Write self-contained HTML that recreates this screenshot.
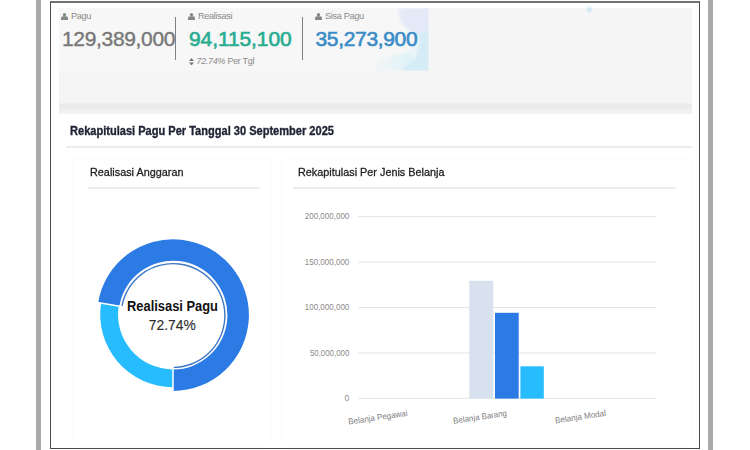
<!DOCTYPE html>
<html>
<head>
<meta charset="utf-8">
<title>Rekapitulasi Pagu</title>
<style>
  html, body { margin: 0; padding: 0; }
  body {
    width: 750px; height: 450px; overflow: hidden; position: relative;
    background: #ffffff;
    font-family: "Liberation Sans", sans-serif;
    color: #777;
  }
  .abs { position: absolute; }
  .vbar { position: absolute; top: 0; height: 450px; background: #a9a9a9; }
  #frame {
    position: absolute; left: 50px; top: 1px; width: 648.3px; height: 444.7px;
    border: 1px solid #4a4a4a; border-top: 2px solid #727272;
    box-sizing: content-box;
  }
  /* top grey panel */
  #panel  { left: 58.5px; top: 8px; width: 633.5px; height: 63.3px; background: linear-gradient(90deg, #f7f7f7 0, #f7f7f7 371px, #f5f5f5 371px); }
  #panel2 { left: 58.5px; top: 71px; width: 633.5px; height: 32px; background: #f5f5f5; }
  #panel3 { left: 58.5px; top: 101.5px; width: 633.5px; height: 12.2px;
            background: linear-gradient(#f5f5f5 0%, #e9e9e9 28%, #ececec 50%, #f1f1f1 80%, #f3f3f3 100%); }
  .sep { position: absolute; top: 17px; width: 1.3px; height: 43px; background: #808080; }
  .lbl { position: absolute; top: 11px; font-size: 9.2px; letter-spacing:-0.35px; line-height: 10px; color: #8a8a8a; white-space: nowrap; transform-origin: 0 50%; }
  .num { position: absolute; top: 26.5px; font-size: 21px; line-height: 24px; white-space: nowrap; transform-origin: 0 50%; }
  .ico { position: absolute; }
  .title { left: 70px; top: 123.8px; font-size: 12px; line-height: 14px; transform: scaleX(0.921); -webkit-text-stroke: 0.35px #1f2233; font-weight: bold; color: #1f2233; white-space: nowrap; transform-origin: 0 50%; }
  .hr { position: absolute; height: 1.6px; background: #ededed; }
  .ctitle { position: absolute; font-size: 11.4px; line-height: 12px; color: #222; transform: scaleX(0.952); -webkit-text-stroke: 0.3px #222; white-space: nowrap; transform-origin: 0 50%; }
  .card { position: absolute; background: #fff; box-shadow: 0 0 6px rgba(0,0,0,0.035); }
</style>
</head>
<body>
  <div class="vbar" style="left:36.2px;width:5.3px"></div>
  <div class="vbar" style="left:708.3px;width:5.2px"></div>

  <div id="panel" class="abs"></div>
  <div id="panel2" class="abs"></div>
  <div id="panel3" class="abs"></div>

  <!-- pastel image behind 3rd stat -->
  <svg class="abs" style="left:370px;top:8px" width="59" height="63" viewBox="0 0 59 63">
    <defs>
      <filter id="soft" x="-10%" y="-10%" width="120%" height="120%"><feGaussianBlur stdDeviation="1.2"/></filter>
      <linearGradient id="fadeL" x1="0" x2="1" y1="0" y2="0">
        <stop offset="0" stop-color="#f6f6f6" stop-opacity="1"/>
        <stop offset="0.6" stop-color="#f6f6f6" stop-opacity="0"/>
      </linearGradient>
    </defs>
    <g filter="url(#soft)"><polygon points="28,0 59,0 59,63 0,63 14,50 38,44 44,30 30,14" fill="#e9f4f9"/>
    <polygon points="28,0 59,0 59,22 46,26 30,14" fill="#e4e9f8"/>
    <polygon points="59,22 59,63 30,63 46,50 50,32 46,26" fill="#d6ecf6"/>
    <polygon points="0,63 14,50 38,44 46,50 30,63" fill="#e2f3f8"/></g>
    <rect x="0" y="0" width="59" height="63" fill="url(#fadeL)"/>
  </svg>
  <div class="abs" style="left:586.5px;top:6.5px;width:5.5px;height:5.5px;background:#bfe3f1;border-radius:2px;filter:blur(1px);opacity:0.85"></div>

  <!-- stat 1 -->
  <svg class="ico" style="left:61.3px;top:12.7px" width="7" height="7.2" viewBox="0 0 14 14.4"><circle cx="7" cy="3.6" r="3.4" fill="#888"/><path d="M0 14.4 V10.2 Q0 6.6 3.6 6.6 H10.4 Q14 6.6 14 10.2 V14.4 Z" fill="#888"/></svg>
  <div class="lbl" style="left:71px">Pagu</div>
  <div class="num" style="left:62px;color:#787878;letter-spacing:-0.33px;-webkit-text-stroke:0.4px #787878">129,389,000</div>

  <div class="sep" style="left:175px"></div>
  <!-- stat 2 -->
  <svg class="ico" style="left:188.3px;top:12.7px" width="7" height="7.2" viewBox="0 0 14 14.4"><circle cx="7" cy="3.6" r="3.4" fill="#888"/><path d="M0 14.4 V10.2 Q0 6.6 3.6 6.6 H10.4 Q14 6.6 14 10.2 V14.4 Z" fill="#888"/></svg>
  <div class="lbl" style="left:198px">Realisasi</div>
  <div class="num" style="left:189px;color:#29ad92;letter-spacing:-0.1px;-webkit-text-stroke:0.65px #29ad92">94,115,100</div>
  <svg class="ico" style="left:189px;top:57.5px" width="5" height="7.5" viewBox="0 0 10 15"><path d="M5 0 L10 6 H0 Z M0 9 H10 L5 15 Z" fill="#777"/></svg>
  <div class="abs" style="left:196.5px;top:56.4px;font-size:9px;line-height:10px;color:#8a8a8a;white-space:nowrap;letter-spacing:-0.3px" id="pertgl"><i>72.74%</i> Per Tgl</div>

  <div class="sep" style="left:302px"></div>
  <!-- stat 3 -->
  <svg class="ico" style="left:315.3px;top:12.7px" width="7" height="7.2" viewBox="0 0 14 14.4"><circle cx="7" cy="3.6" r="3.4" fill="#888"/><path d="M0 14.4 V10.2 Q0 6.6 3.6 6.6 H10.4 Q14 6.6 14 10.2 V14.4 Z" fill="#888"/></svg>
  <div class="lbl" style="left:325px">Sisa Pagu</div>
  <div class="num" style="left:315.5px;color:#3b8cc7;letter-spacing:-0.33px;-webkit-text-stroke:0.65px #3b8cc7">35,273,900</div>

  <!-- main section -->
  <div class="abs title" id="mtitle">Rekapitulasi Pagu Per Tanggal 30 September 2025</div>
  <div class="hr" style="left:66px;top:146.4px;width:626px"></div>

  <div class="card" style="left:74px;top:160px;width:196px;height:286px"></div>
  <div class="card" style="left:283px;top:160px;width:407px;height:286px"></div>

  <div class="ctitle" id="ct1" style="left:90px;top:165.6px">Realisasi Anggaran</div>
  <div class="hr" style="left:88px;top:187.4px;width:172px"></div>
  <div class="ctitle" id="ct2" style="left:298px;top:165.6px">Rekapitulasi Per Jenis Belanja</div>
  <div class="hr" style="left:293px;top:187.4px;width:383px"></div>

  <!-- donut -->
  <svg class="abs" style="left:74px;top:200px" width="200" height="246" viewBox="74 200 200 246" id="donut">
    <path d="M173.00 387.20 A72.8 72.8 0 0 1 101.20 302.38 L118.75 305.32 A55 55 0 0 0 173.00 369.40 Z" fill="#27bcfd"/>
    <path d="M98.14 302.57 A75.9 75.9 0 1 1 173.00 391.00 L173.00 369.50 A54.4 54.4 0 1 0 119.35 306.12 Z" fill="#2c7be5"/>
    <path d="M121.22 306.28 A52.6 52.6 0 1 1 173.00 368.10 L173.00 366.70 A51.2 51.2 0 1 0 122.59 306.52 Z" fill="#3f78c4"/>
    <line x1="173.00" y1="363.10" x2="173.00" y2="393.10" stroke="#fff" stroke-width="1.5"/>
    <line x1="125.66" y1="307.18" x2="96.07" y2="302.23" stroke="#fff" stroke-width="1.5"/>
    <text x="172.5" y="310.5" text-anchor="middle" font-family="Liberation Sans, sans-serif" font-weight="bold" font-size="13.8" textLength="91" lengthAdjust="spacingAndGlyphs" fill="#111" id="dl1">Realisasi Pagu</text>
    <text x="172.3" y="330.2" text-anchor="middle" font-family="Liberation Sans, sans-serif" font-size="15" textLength="47" lengthAdjust="spacingAndGlyphs" fill="#2e2e2e" stroke="#2e2e2e" stroke-width="0.15" id="dl2">72.74%</text>
  </svg>

  <!-- bar chart -->
  <svg class="abs" style="left:283px;top:195px" width="410" height="251" viewBox="283 195 410 251" id="bars">
    <rect x="358" y="216.2" width="298" height="1" fill="#e4e4e4"/>
    <text x="349.3" y="219.3" text-anchor="end" font-family="Liberation Sans, sans-serif" font-size="8.5" textLength="44.5" lengthAdjust="spacingAndGlyphs" fill="#8a8a8a" class="yl">200,000,000</text>
    <rect x="358" y="261.6" width="298" height="1" fill="#e4e4e4"/>
    <text x="349.3" y="264.7" text-anchor="end" font-family="Liberation Sans, sans-serif" font-size="8.5" textLength="44.5" lengthAdjust="spacingAndGlyphs" fill="#8a8a8a" class="yl">150,000,000</text>
    <rect x="358" y="307.0" width="298" height="1" fill="#e4e4e4"/>
    <text x="349.3" y="310.1" text-anchor="end" font-family="Liberation Sans, sans-serif" font-size="8.5" textLength="44.5" lengthAdjust="spacingAndGlyphs" fill="#8a8a8a" class="yl">100,000,000</text>
    <rect x="358" y="352.4" width="298" height="1" fill="#e4e4e4"/>
    <text x="349.3" y="355.5" text-anchor="end" font-family="Liberation Sans, sans-serif" font-size="8.5" textLength="39.4" lengthAdjust="spacingAndGlyphs" fill="#8a8a8a" class="yl">50,000,000</text>
    <rect x="358" y="397.8" width="298" height="1" fill="#e4e4e4"/>
    <text x="349.3" y="400.9" text-anchor="end" font-family="Liberation Sans, sans-serif" font-size="8.5" fill="#8a8a8a" class="yl">0</text>
    <rect x="469.3" y="280.8" width="24" height="117.8" fill="#d8e2ef"/>
    <rect x="495" y="312.8" width="23.7" height="85.8" fill="#2c7be5"/>
    <rect x="520.4" y="366.3" width="23.4" height="32.3" fill="#27bcfd"/>
    <text transform="translate(407.7 415.8) rotate(-8.5)" text-anchor="end" font-family="Liberation Sans, sans-serif" font-size="8.5" fill="#7d7d7d" class="xl" textLength="59.5" lengthAdjust="spacingAndGlyphs">Belanja Pegawai</text>
    <text transform="translate(507.2 415.8) rotate(-8.5)" text-anchor="end" font-family="Liberation Sans, sans-serif" font-size="8.5" fill="#7d7d7d" class="xl" textLength="54.2" lengthAdjust="spacingAndGlyphs">Belanja Barang</text>
    <text transform="translate(606.3 415.8) rotate(-8.5)" text-anchor="end" font-family="Liberation Sans, sans-serif" font-size="8.5" fill="#7d7d7d" class="xl" textLength="51.4" lengthAdjust="spacingAndGlyphs">Belanja Modal</text>
  </svg>
  <div id="frame"></div>
</body>
</html>
